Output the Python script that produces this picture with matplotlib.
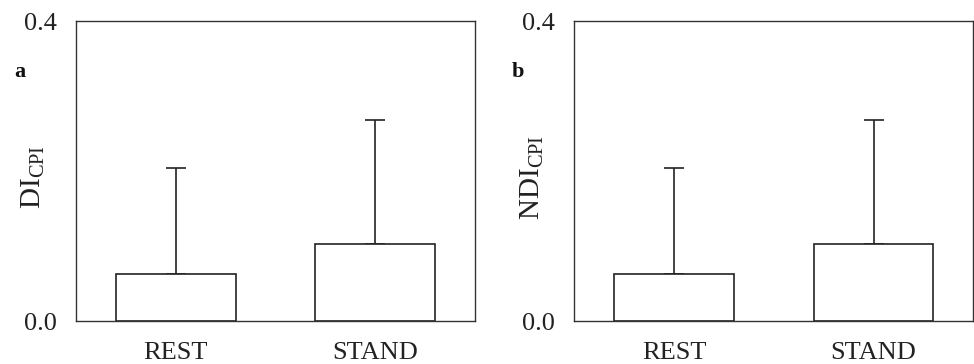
import numpy as np
import matplotlib
matplotlib.use("Agg")
import matplotlib.pyplot as plt

plt.rcParams['font.family'] = ['Liberation Serif', 'DejaVu Serif']
plt.rcParams['mathtext.fontset'] = 'custom'
plt.rcParams['mathtext.rm'] = 'Liberation Serif'

conditions = ["REST", "STAND"]
di_mean = [0.0635, 0.103]
di_sd = [0.141, 0.166]
ndi_mean = [0.0635, 0.103]
ndi_sd = [0.141, 0.166]

panels = [
    ("a", r"DI$_{\mathrm{CPI}}$", di_mean, di_sd, 76),
    ("b", r"NDI$_{\mathrm{CPI}}$", ndi_mean, ndi_sd, 574.3),
]

W, H = 974, 364
fig = plt.figure(figsize=(W/100, H/100), dpi=100)

for letter, ylab, mean, sd, left in panels:
    ax = fig.add_axes([left/W, 42.7/H, 399/W, 300/H])
    x = np.arange(len(conditions))
    ax.bar(x, mean, width=0.6, color='white', edgecolor='#222222', linewidth=1.2, zorder=2)
    ax.errorbar(x, mean, yerr=[np.zeros(len(sd)), sd], fmt='none', ecolor='#222222',
                elinewidth=1.2, capsize=7.5, capthick=1.2, zorder=1)
    ax.set_xlim(-0.5, 1.5)
    ax.set_ylim(0, 0.4)
    ax.set_yticks([0.0, 0.4])
    ax.set_yticklabels(["0.0", "0.4"])
    ax.set_xticks(x)
    ax.set_xticklabels(conditions)
    ax.tick_params(length=0, labelsize=19, colors='#222222')
    ax.tick_params(axis='y', pad=14)
    ax.tick_params(axis='x', pad=15)
    for s in ax.spines.values():
        s.set_linewidth(1.0)
        s.set_color('#333333')
    ax.set_ylabel(ylab, fontsize=21, color='#222222')
    ax.yaxis.set_label_coords(-0.072, 0.48)
    fig.text((left - 56)/W, 1 - 72/H, letter, fontsize=16, fontweight='bold',
             ha='center', va='center', color='#111111')

fig.savefig("out.png", dpi=100)
